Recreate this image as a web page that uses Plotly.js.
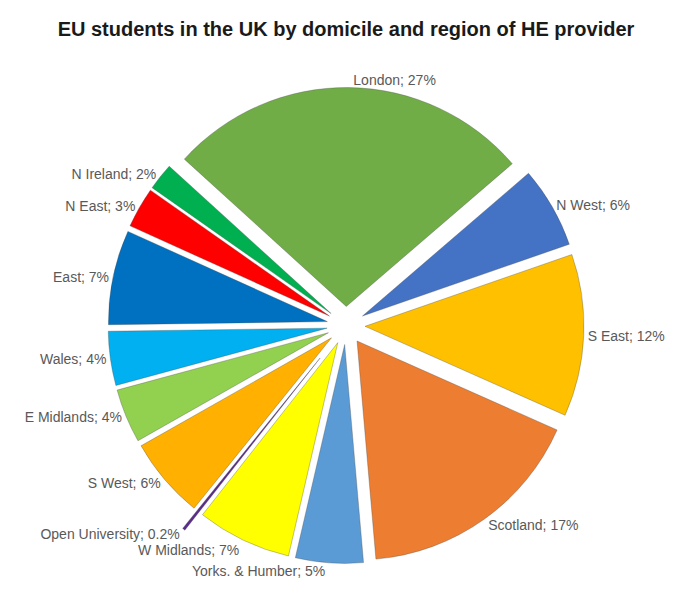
<!DOCTYPE html>
<html>
<head>
<meta charset="utf-8">
<script src="https://cdn.plot.ly/plotly-3.0.1.min.js"></script>
<style>
html,body{margin:0;padding:0;background:#fff;}
#chart{width:679px;height:590px;}
#chart path.textline{display:none !important;}
</style>
</head>
<body>
<div id="chart"></div>
<script>
var regions = ["London", "N West", "S East", "Scotland", "Yorks. & Humber", "W Midlands", "Open University", "S West", "E Midlands", "Wales", "East", "N East", "N Ireland"];
var shares = [27, 6, 12, 17, 5, 7, 0.2, 6, 4, 4, 7, 3, 2];
var sliceColors = ["#70AD47", "#4472C4", "#FFC000", "#ED7D31", "#5B9BD5", "#FFFF00", "#5B2C8C", "#FFB000", "#92D050", "#00B0F0", "#0070C0", "#FF0000", "#00B050"];
var explode = [0.087, 0.087, 0.087, 0.087, 0.087, 0.087, 0.19, 0.087, 0.087, 0.087, 0.087, 0.087, 0.087];

var labelsText = regions.map(function (r, i) { return r + "; " + shares[i] + "%"; });

var trace = {
  type: "pie",
  labels: regions,
  values: shares,
  text: labelsText,
  textinfo: "text",
  textposition: "outside",
  sort: false,
  direction: "clockwise",
  rotation: -47.7,
  pull: explode,
  marker: { colors: sliceColors, line: { color: "rgba(70,70,70,0.55)", width: 0.6 } },
  outsidetextfont: { family: "Liberation Sans, Arial, sans-serif", size: 14, color: "#595959" },
  automargin: false,
  showlegend: false,
  hoverinfo: "label+percent"
};

var layout = {
  width: 679,
  height: 590,
  margin: { l: 13, r: 0, t: 65, b: 4 },
  paper_bgcolor: "#ffffff",
  showlegend: false,
  title: {
    text: "EU students in the UK by domicile and region of HE provider",
    font: { family: "Liberation Sans, Arial, sans-serif", size: 20, color: "#1a1a1a", weight: "bold" },
    x: 0.5, xanchor: "center", y: 0.951, yanchor: "middle", xref: "paper", yref: "container"
  }
};

Plotly.newPlot("chart", [trace], layout, { displayModeBar: false, staticPlot: true });
</script>
</body>
</html>
